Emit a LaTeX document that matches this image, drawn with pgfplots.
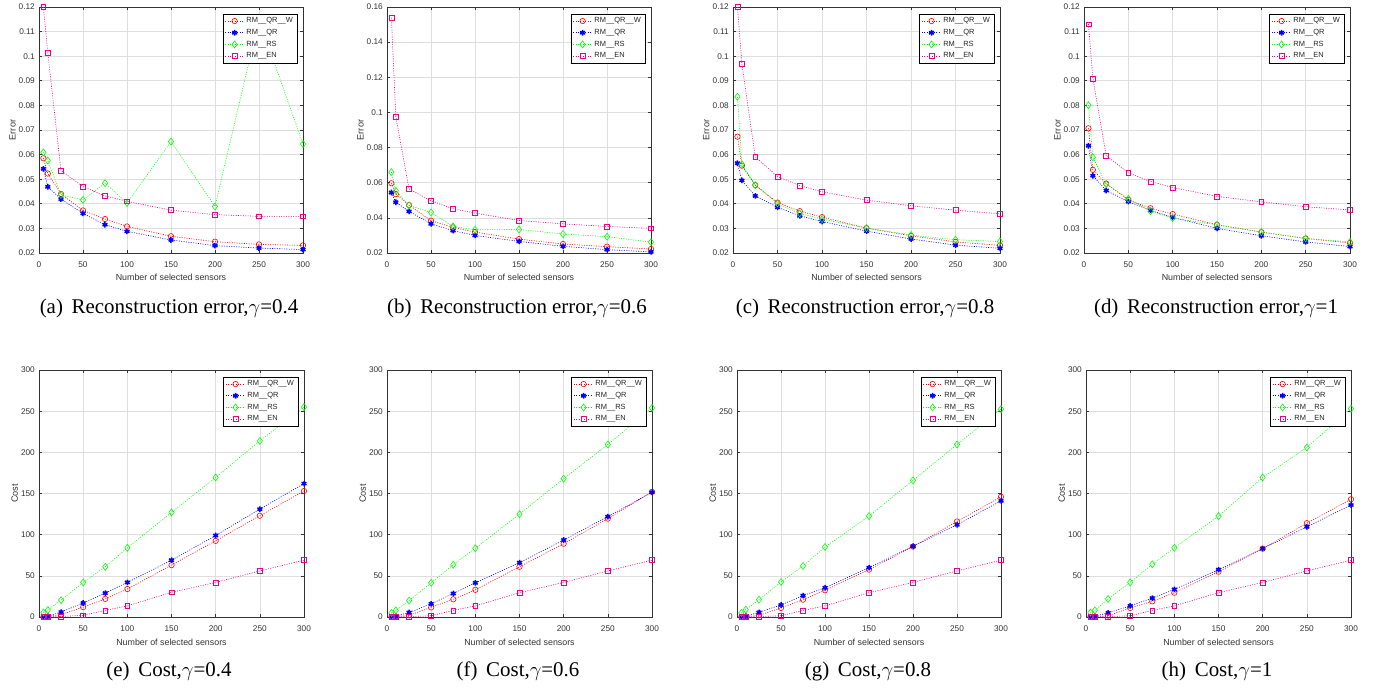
\documentclass[border=0pt]{standalone}
\usepackage{fontspec}
\usepackage{pgfplots}
\pgfplotsset{compat=1.18}
\newfontfamily\axisfont{Liberation Sans}
\newfontfamily\capfont{Liberation Serif}
\pgfplotsset{
  base/.style={
    scale only axis, anchor=south west, clip=false,
    xmin=0, xmax=300, xtick={0,50,...,300},
    grid=major,
    major grid style={line width=0.6bp, draw=black!13},
    axis line style={line width=0.6bp, draw=black!80},
    tick style={line width=0.6bp, draw=black!80},
    major tick length=3bp,
    /pgf/number format/assume math mode=true,
    tick label style={font=\axisfont\fontsize{8.3}{9}\selectfont, text=black!80, inner sep=0pt},
    xticklabel style={yshift=-9bp},
    yticklabel style={xshift=-4bp},
    every axis x label/.style={at={(axis description cs:0.5,0)}, anchor=base, yshift=-28bp, font=\axisfont\fontsize{8.9}{10}\selectfont, text=black!80},
    every axis y label/.style={at={(axis description cs:-0.087,0.5)}, rotate=90, anchor=south, inner sep=0pt, font=\axisfont\fontsize{9.2}{10}\selectfont, text=black!80},
    xlabel={Number of selected sensors},
    legend cell align=left,
    legend style={at={(rel axis cs:0.978,0.972)}, anchor=north east, draw=black, line width=0.6bp, fill=white,
      inner xsep=2bp, inner ysep=1.5bp, font=\axisfont\fontsize{7.5}{8}\selectfont, text=black!85, row sep=1bp},
    legend image code/.code={\draw[mark repeat=2,mark phase=2,##1] plot coordinates {(0bp,0bp) (9.5bp,0bp) (19bp,0bp)};},
  },
  errax/.style={base, width=264bp, height=246bp, ylabel={Error}},
  costax/.style={base, width=265bp, height=247bp, ylabel={Cost}, ymin=0, ymax=300, ytick={0,50,...,300},
    every axis y label/.append style={at={(axis description cs:-0.079,0.5)}}},
  sW/.style={color=red, line width=0.6bp, dash pattern=on 1bp off 1.4bp, mark=o, mark size=2.7bp, mark options={solid}},
  sQ/.style={color=blue, line width=0.6bp, dash pattern=on 1bp off 1.4bp, mark=asterisk, mark size=2.8bp, mark options={solid, line width=1.5bp}},
  sR/.style={color=green, line width=0.6bp, dash pattern=on 1bp off 1.4bp, mark=diamond, mark size=3.5bp, mark options={solid}},
  sE/.style={color=magenta, line width=0.6bp, dash pattern=on 1bp off 1.4bp, mark=square, mark size=2.4bp, mark options={solid}},
}
\newcommand\leg{\legend{RM\_\_QR\_\_W,RM\_\_QR,RM\_\_RS,RM\_\_EN}}
\newcommand\capt[3]{\node[anchor=base, font=\capfont\fontsize{21}{25}\selectfont] at (#1bp,#2bp) {#3};}
\begin{document}
\begin{tikzpicture}
\path[use as bounding box] (0bp,0bp) rectangle (1380bp,691bp);

% (a)
\begin{axis}[errax, at={(39bp,438bp)}, ymin=0.02, ymax=0.12, ytick={0.02,0.03,...,0.121},
  yticklabels={0.02,0.03,0.04,0.05,0.06,0.07,0.08,0.09,0.1,0.11,0.12}]
\addplot[sW] coordinates {(5,0.0585)(10,0.0523)(25,0.0440)(50,0.0373)(75,0.0338)(100,0.0308)(150,0.0268)(200,0.0246)(250,0.0235)(300,0.0231)};
\addplot[sQ] coordinates {(5,0.0542)(10,0.0469)(25,0.0419)(50,0.0361)(75,0.0315)(100,0.0288)(150,0.0253)(200,0.0230)(250,0.0220)(300,0.0214)};
\addplot[sR] coordinates {(5,0.0609)(10,0.0576)(25,0.0436)(50,0.0416)(75,0.0484)(100,0.0403)(150,0.0653)(200,0.0389)(250,0.1150)(300,0.0643)};
\addplot[sE] coordinates {(5,0.1200)(10,0.1013)(25,0.0535)(50,0.0470)(75,0.0432)(100,0.0410)(150,0.0374)(200,0.0356)(250,0.0349)(300,0.0349)};
\leg
\end{axis}

% (b)
\begin{axis}[errax, at={(387bp,438bp)}, ymin=0.02, ymax=0.16, ytick={0.02,0.04,...,0.161},
  yticklabels={0.02,0.04,0.06,0.08,0.1,0.12,0.14,0.16}]
\addplot[sW] coordinates {(5,0.0597)(10,0.0535)(25,0.0473)(50,0.0384)(75,0.0346)(100,0.0319)(150,0.0279)(200,0.0251)(250,0.0236)(300,0.0223)};
\addplot[sQ] coordinates {(5,0.0544)(10,0.0489)(25,0.0437)(50,0.0366)(75,0.0327)(100,0.0300)(150,0.0266)(200,0.0238)(250,0.0219)(300,0.0206)};
\addplot[sR] coordinates {(5,0.0660)(10,0.0554)(25,0.0471)(50,0.0431)(75,0.0351)(100,0.0332)(150,0.0334)(200,0.0308)(250,0.0293)(300,0.0262)};
\addplot[sE] coordinates {(5,0.1540)(10,0.0976)(25,0.0565)(50,0.0497)(75,0.0452)(100,0.0427)(150,0.0385)(200,0.0366)(250,0.0351)(300,0.0340)};
\leg
\end{axis}

% (c)
\begin{axis}[errax, width=267bp, at={(733bp,438bp)}, ymin=0.02, ymax=0.12, ytick={0.02,0.03,...,0.121},
  yticklabels={0.02,0.03,0.04,0.05,0.06,0.07,0.08,0.09,0.1,0.11,0.12}]
\addplot[sW] coordinates {(5,0.0673)(10,0.0555)(25,0.0476)(50,0.0405)(75,0.0370)(100,0.0346)(150,0.0301)(200,0.0270)(250,0.0245)(300,0.0231)};
\addplot[sQ] coordinates {(5,0.0565)(10,0.0495)(25,0.0432)(50,0.0386)(75,0.0351)(100,0.0328)(150,0.0289)(200,0.0257)(250,0.0232)(300,0.0219)};
\addplot[sR] coordinates {(5,0.0835)(10,0.0561)(25,0.0476)(50,0.0401)(75,0.0361)(100,0.0338)(150,0.0301)(200,0.0273)(250,0.0254)(300,0.0247)};
\addplot[sE] coordinates {(5,0.1200)(10,0.0968)(25,0.0591)(50,0.0511)(75,0.0474)(100,0.0449)(150,0.0415)(200,0.0392)(250,0.0374)(300,0.0359)};
\leg
\end{axis}

% (d)
\begin{axis}[errax, width=266bp, at={(1084bp,438bp)}, ymin=0.02, ymax=0.12, ytick={0.02,0.03,...,0.121},
  yticklabels={0.02,0.03,0.04,0.05,0.06,0.07,0.08,0.09,0.1,0.11,0.12}]
\addplot[sW] coordinates {(5,0.0707)(10,0.0538)(25,0.0482)(50,0.0416)(75,0.0382)(100,0.0358)(150,0.0315)(200,0.0285)(250,0.0259)(300,0.0241)};
\addplot[sQ] coordinates {(5,0.0636)(10,0.0514)(25,0.0454)(50,0.0409)(75,0.0373)(100,0.0345)(150,0.0300)(200,0.0270)(250,0.0245)(300,0.0226)};
\addplot[sR] coordinates {(5,0.0801)(10,0.0589)(25,0.0480)(50,0.0420)(75,0.0370)(100,0.0342)(150,0.0314)(200,0.0285)(250,0.0259)(300,0.0245)};
\addplot[sE] coordinates {(5,0.1130)(10,0.0909)(25,0.0596)(50,0.0526)(75,0.0491)(100,0.0466)(150,0.0430)(200,0.0408)(250,0.0388)(300,0.0375)};
\leg
\end{axis}

% (e)
\begin{axis}[costax, at={(39bp,74bp)}]
\addplot[sW] coordinates {(5,0)(10,0.5)(25,3)(50,12)(75,22)(100,34)(150,63)(200,92.5)(250,123)(300,153)};
\addplot[sQ] coordinates {(5,0.2)(10,1)(25,6)(50,17)(75,29)(100,42)(150,69)(200,99)(250,131)(300,162)};
\addplot[sR] coordinates {(5,5.5)(10,8.5)(25,20.5)(50,42)(75,61)(100,84)(150,127)(200,169.5)(250,214)(300,255)};
\addplot[sE] coordinates {(5,0)(10,0)(25,0.7)(50,2)(75,8)(100,13.5)(150,30)(200,42)(250,56)(300,69)};
\leg
\end{axis}

% (f)
\begin{axis}[costax, at={(387bp,74bp)}]
\addplot[sW] coordinates {(5,0)(10,0.5)(25,2)(50,11.7)(75,21.5)(100,33)(150,61)(200,89)(250,119.5)(300,152)};
\addplot[sQ] coordinates {(5,0.3)(10,1)(25,5.5)(50,16)(75,28.5)(100,41.5)(150,66)(200,93.5)(250,122)(300,151.5)};
\addplot[sR] coordinates {(5,5)(10,8)(25,20)(50,41.5)(75,63.5)(100,83.5)(150,125)(200,168)(250,209.5)(300,254)};
\addplot[sE] coordinates {(5,0)(10,0)(25,0.5)(50,1.5)(75,8)(100,13.5)(150,29.5)(200,42)(250,56)(300,69)};
\leg
\end{axis}

% (g)
\begin{axis}[costax, width=264bp, at={(737bp,74bp)}]
\addplot[sW] coordinates {(5,0)(10,0.5)(25,2)(50,11)(75,21)(100,32.5)(150,57.5)(200,85.5)(250,116)(300,146)};
\addplot[sQ] coordinates {(5,0.3)(10,1)(25,5.7)(50,14.6)(75,26)(100,35.5)(150,60)(200,86)(250,112)(300,141)};
\addplot[sR] coordinates {(5,5)(10,9)(25,21)(50,42.5)(75,62)(100,85)(150,122.5)(200,166)(250,209.5)(300,252.5)};
\addplot[sE] coordinates {(5,0)(10,0)(25,0.5)(50,1.5)(75,8)(100,13.5)(150,29.5)(200,42)(250,56)(300,69)};
\leg
\end{axis}

% (h)
\begin{axis}[costax, at={(1086bp,74bp)}]
\addplot[sW] coordinates {(5,0)(10,0.5)(25,1.6)(50,11)(75,19)(100,29.5)(150,55)(200,83)(250,114)(300,143)};
\addplot[sQ] coordinates {(5,0.3)(10,1)(25,5)(50,13.5)(75,23)(100,33.5)(150,57.5)(200,83)(250,109.5)(300,136)};
\addplot[sR] coordinates {(5,5.3)(10,8)(25,22)(50,42)(75,64)(100,84)(150,122.5)(200,169.5)(250,206)(300,253)};
\addplot[sE] coordinates {(5,0)(10,0)(25,0.5)(50,1.5)(75,8)(100,13.5)(150,29.5)(200,42)(250,56)(300,69)};
\leg
\end{axis}

\capt{169}{377}{(a)\, Reconstruction error,$\gamma$=0.4}
\capt{517}{377}{(b)\, Reconstruction error,$\gamma$=0.6}
\capt{865}{377}{(c)\, Reconstruction error,$\gamma$=0.8}
\capt{1216}{377}{(d)\, Reconstruction error,$\gamma$=1}
\capt{169}{15}{(e)\, Cost,$\gamma$=0.4}
\capt{518}{15}{(f)\, Cost,$\gamma$=0.6}
\capt{868}{15}{(g)\, Cost,$\gamma$=0.8}
\capt{1217}{15}{(h)\, Cost,$\gamma$=1}
\end{tikzpicture}
\end{document}
